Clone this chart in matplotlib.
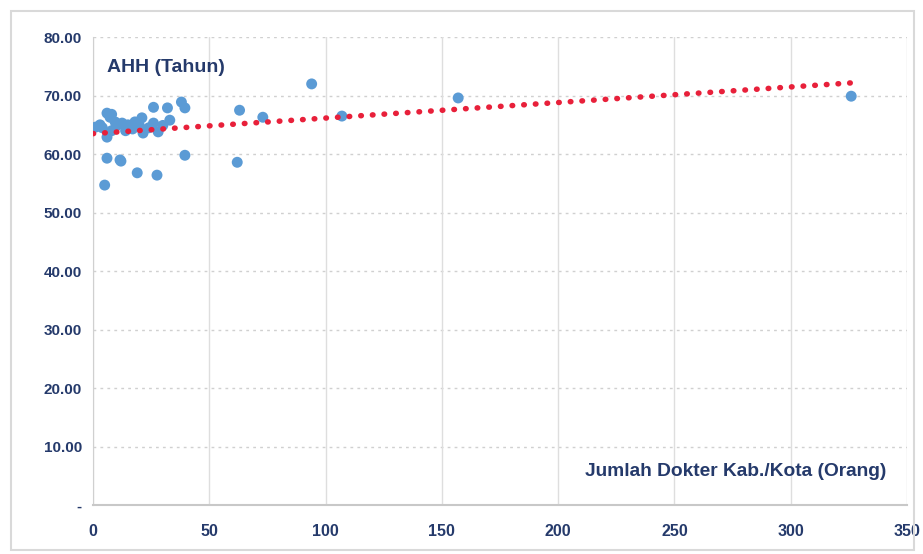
import matplotlib
matplotlib.use("Agg")
import matplotlib.pyplot as plt
from matplotlib.patches import Rectangle

# Data: jumlah dokter (x) vs AHH (y)
dokter = [1, 3, 4, 5, 6, 6, 6, 7.3, 8, 8, 9.5, 10, 11.6, 12, 12.5, 14, 15, 17, 18,
          19, 20, 21, 21.5, 24, 26, 26, 27.5, 28, 30, 32, 33, 38, 39.5, 39.5,
          62, 63, 73, 94, 107, 157, 326]
ahh = [64.6, 65.0, 64.5, 54.7, 67.0, 62.9, 59.3, 66.3, 64.0, 66.8, 65.5, 64.8, 59.0, 58.8, 65.3, 64.0, 65.0, 64.3, 65.5,
       56.8, 64.8, 66.2, 63.6, 64.5, 68.0, 65.3, 56.4, 63.8, 64.9, 67.9, 65.8, 68.9, 67.9, 59.8,
       58.6, 67.5, 66.3, 72.0, 66.5, 69.6, 69.9]
trend_x = [0, 327]
trend_y = [63.5, 72.2]
xticks = [0, 50, 100, 150, 200, 250, 300, 350]
yticks = [0, 10, 20, 30, 40, 50, 60, 70, 80]
ytick_labels = ["-", "10.00", "20.00", "30.00", "40.00", "50.00", "60.00", "70.00", "80.00"]

navy = "#253a6b"
fig = plt.figure(figsize=(9.23, 5.54), dpi=100)
fig.patches.append(Rectangle((0.012, 0.008), 0.978, 0.972, transform=fig.transFigure,
                             fill=False, edgecolor="#d9d9d9", linewidth=1.5))
ax = fig.add_axes([0.1008, 0.0884, 0.8819, 0.8446])
ax.set_xlim(0, 350)
ax.set_ylim(0, 80)

for v in yticks[1:]:
    ax.axhline(v, color="#d0d0d0", linestyle=(0, (2, 3)), linewidth=1, zorder=0)
for v in xticks:
    ax.axvline(v, color="#dedede", linestyle="-", linewidth=1, zorder=0)

ax.scatter(dokter, ahh, s=62, color="#5b9bd5", edgecolors="none", zorder=3)
ax.plot(trend_x, trend_y, color="#e8203a", linestyle=(0, (0.1, 2.0)), linewidth=4.0,
        dash_capstyle="round", zorder=4)

for s in ["top", "right"]:
    ax.spines[s].set_visible(False)
ax.spines["left"].set_color("#d0d0d0")
ax.spines["bottom"].set_color("#c8c8c8")
ax.spines["bottom"].set_linewidth(1.5)

ax.set_xticks(xticks)
ax.set_xticklabels([str(v) for v in xticks])
ax.set_yticks(yticks)
ax.set_yticklabels(ytick_labels)
ax.tick_params(length=0, colors=navy, labelsize=11)
ax.tick_params(axis="x", pad=14, labelsize=11.5)
ax.tick_params(axis="y", pad=8)
for lab in ax.get_xticklabels() + ax.get_yticklabels():
    lab.set_fontweight("bold")
    lab.set_family("Liberation Sans")

ax.text(6, 74.8, "AHH (Tahun)", color=navy, fontsize=14, fontweight="bold",
        family="Liberation Sans", ha="left", va="center")
ax.text(341, 5.7, "Jumlah Dokter Kab./Kota (Orang)", color=navy, fontsize=13.8,
        fontweight="bold", family="Liberation Sans", ha="right", va="center")

fig.savefig("out.png", dpi=100)
